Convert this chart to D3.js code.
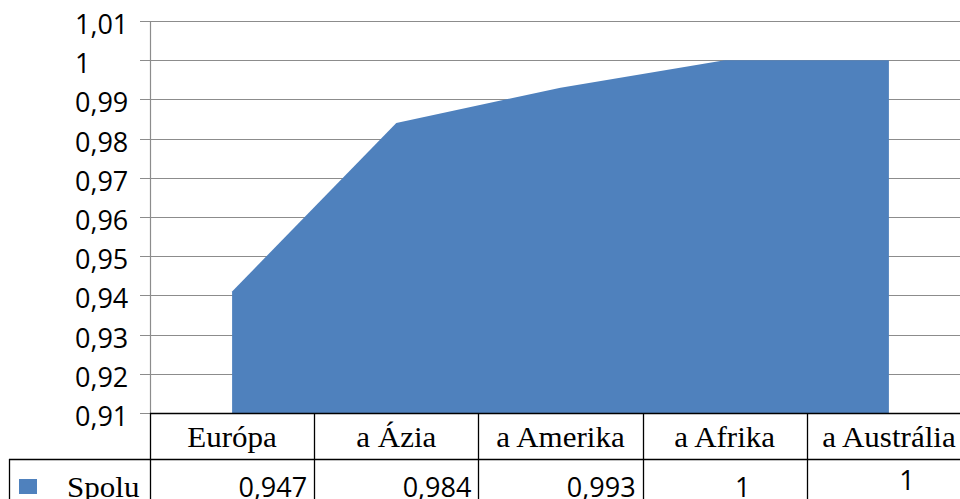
<!DOCTYPE html>
<html>
<head>
<meta charset="utf-8">
<script src="https://cdn.jsdelivr.net/npm/d3@7"></script>
<style>
  html, body { margin: 0; padding: 0; background: #fff; overflow: hidden; }
  svg { display: block; }
</style>
</head>
<body>
<svg id="chart" width="960" height="499"></svg>
<script>
// data
const categories = ["Európa", "a Ázia", "a Amerika", "a Afrika", "a Austrália"];
const values = [0.941, 0.984, 0.993, 1, 1];
const tableLabels = ["0,947", "0,984", "0,993", "1", "1"];
const yTicks = [0.91, 0.92, 0.93, 0.94, 0.95, 0.96, 0.97, 0.98, 0.99, 1, 1.01];
const seriesName = "Spolu";

const svg = d3.select("#chart");
const blue = "#4f81bd";
const sansFont = "'Open Sans', 'Noto Sans', sans-serif";
const serifFont = "'Liberation Serif', 'DejaVu Serif', serif";
const serifStretch = 1.07; // reference serif text looks a bit wide

const x = d3.scaleBand().domain(categories).range([150, 971]).padding(0);
const y = d3.scaleLinear().domain([0.91, 1.01]).range([413, 21]);

const fmt = v => (+v.toFixed(2)).toString().replace(".", ",");

// gridlines + ticks
svg.append("g")
  .selectAll("line")
  .data(yTicks)
  .join("line")
  .attr("x1", 140).attr("x2", 960)
  .attr("y1", d => Math.round(y(d)) + 0.5)
  .attr("y2", d => Math.round(y(d)) + 0.5)
  .attr("stroke", "#8c8c8c")
  .attr("stroke-width", 1.2);

// area
const area = d3.area()
  .x((d, i) => x(categories[i]) + x.bandwidth() / 2)
  .y0(y(0.91))
  .y1(d => y(d));

svg.append("path")
  .datum(values)
  .attr("d", area)
  .attr("fill", blue);

// y axis line
svg.append("line")
  .attr("x1", 150.5).attr("x2", 150.5)
  .attr("y1", y(1.01)).attr("y2", 413)
  .attr("stroke", "#8c8c8c")
  .attr("stroke-width", 1.2);

// y tick labels
svg.append("g")
  .selectAll("text")
  .data(yTicks)
  .join("text")
  .attr("x", 75)
  .attr("y", d => y(d) + 13)
  .attr("font-family", sansFont)
  .attr("font-size", 27)
  .attr("fill", "#000")
  .text(fmt);

// data table
const table = svg.append("g").attr("stroke", "#000").attr("stroke-width", 1.3);
table.append("line").attr("x1", 150).attr("x2", 960).attr("y1", 413.5).attr("y2", 413.5);
table.append("line").attr("x1", 9).attr("x2", 960).attr("y1", 459.5).attr("y2", 459.5);
table.append("line").attr("x1", 9.5).attr("x2", 9.5).attr("y1", 459).attr("y2", 499);
table.selectAll("line.col")
  .data(categories)
  .join("line")
  .attr("class", "col")
  .attr("x1", d => Math.round(x(d)) + 0.5)
  .attr("x2", d => Math.round(x(d)) + 0.5)
  .attr("y1", 413).attr("y2", 499);

// header row
svg.append("g")
  .selectAll("text")
  .data(categories)
  .join("text")
  .attr("transform", d => `translate(${x(d) + x.bandwidth() / 2},447) scale(${serifStretch},1)`)
  .attr("text-anchor", "middle")
  .attr("font-family", serifFont)
  .attr("font-size", 29)
  .attr("fill", "#000")
  .text(d => d);

// value row
svg.append("g")
  .selectAll("text")
  .data(tableLabels)
  .join("text")
  .attr("x", (d, i) => d.includes(",")
    ? x(categories[i]) + x.bandwidth() - 7
    : x(categories[i]) + x.bandwidth() / 2 + 18)
  .attr("y", (d, i) => i === categories.length - 1 ? 490 : 497)
  .attr("text-anchor", d => d.includes(",") ? "end" : "middle")
  .attr("font-family", sansFont)
  .attr("font-size", 27)
  .attr("fill", "#000")
  .text(d => d);

// legend key
svg.append("rect")
  .attr("x", 19).attr("y", 479)
  .attr("width", 18).attr("height", 15)
  .attr("fill", blue);
svg.append("text")
  .attr("transform", `translate(67,497) scale(${serifStretch},1)`)
  .attr("font-family", serifFont)
  .attr("font-size", 29)
  .attr("fill", "#000")
  .text(seriesName);
</script>
</body>
</html>
